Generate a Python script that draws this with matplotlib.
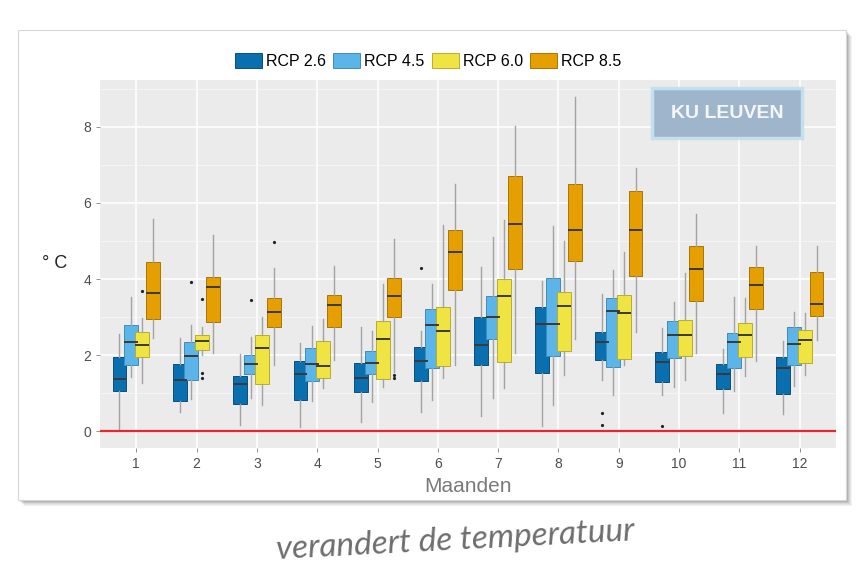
import matplotlib
matplotlib.use('Agg')
import matplotlib.pyplot as plt
from matplotlib.patches import Rectangle, Patch
import numpy as np

plt.rcParams['font.family'] = ['Liberation Sans', 'DejaVu Sans']

# ---------------- data ----------------
months = [1, 2, 3, 4, 5, 6, 7, 8, 9, 10, 11, 12]
scenarios = ['RCP 2.6', 'RCP 4.5', 'RCP 6.0', 'RCP 8.5']
colors = ['#0a6fae', '#5bb5e8', '#f0e442', '#e69f00']
edge_colors = ['#0b4f7a', '#3f8cb8', '#b8ae2a', '#a87500']

rcp26_q1 = [1.07, 0.80, 0.72, 0.81, 1.02, 1.31, 1.75, 1.53, 1.87, 1.30, 1.12, 0.99]
rcp26_med = [1.37, 1.35, 1.24, 1.50, 1.39, 1.84, 2.27, 2.83, 2.35, 1.82, 1.51, 1.67]
rcp26_q3 = [1.96, 1.78, 1.46, 1.85, 1.80, 2.21, 3.00, 3.26, 2.61, 2.08, 1.77, 1.95]
rcp26_lo = [0.05, 0.51, 0.17, 0.12, 0.24, 0.50, 0.41, 0.15, 1.35, 0.95, 0.47, 0.46]
rcp26_hi = [2.55, 2.46, 2.04, 2.33, 2.73, 2.64, 4.32, 3.96, 3.61, 2.72, 2.16, 2.36]

rcp45_q1 = [1.75, 1.35, 1.50, 1.33, 1.51, 1.66, 2.43, 1.99, 1.69, 1.92, 1.66, 1.74]
rcp45_med = [2.35, 1.97, 1.76, 1.78, 1.79, 2.80, 3.00, 2.81, 3.15, 2.54, 2.35, 2.30]
rcp45_q3 = [2.80, 2.35, 2.01, 2.19, 2.10, 3.21, 3.55, 4.03, 3.51, 2.89, 2.59, 2.74]
rcp45_lo = [1.43, 0.84, 0.87, 0.79, 0.78, 0.83, 0.87, 0.69, 0.94, 1.15, 1.06, 1.19]
rcp45_hi = [3.53, 2.78, 2.48, 2.76, 2.64, 3.87, 5.10, 5.40, 4.23, 3.40, 3.52, 3.13]

rcp60_q1 = [1.96, 2.13, 1.24, 1.41, 1.38, 1.72, 1.83, 2.10, 1.91, 1.99, 1.94, 1.79]
rcp60_med = [2.26, 2.36, 2.18, 1.72, 2.43, 2.63, 3.56, 3.30, 3.12, 2.53, 2.54, 2.41]
rcp60_q3 = [2.62, 2.54, 2.52, 2.37, 2.90, 3.26, 4.00, 3.67, 3.58, 2.92, 2.84, 2.66]
rcp60_lo = [1.26, 2.00, 0.68, 1.14, 1.15, 1.40, 1.13, 1.48, 1.74, 1.34, 1.46, 1.49]
rcp60_hi = [2.98, 2.75, 2.99, 2.96, 3.87, 5.43, 5.55, 4.99, 4.72, 4.15, 3.49, 3.10]

rcp85_q1 = [2.96, 2.87, 2.73, 2.75, 3.00, 3.71, 4.26, 4.48, 4.09, 3.43, 3.22, 3.03]
rcp85_med = [3.62, 3.80, 3.14, 3.33, 3.55, 4.72, 5.44, 5.28, 5.28, 4.27, 3.85, 3.35]
rcp85_q3 = [4.44, 4.06, 3.49, 3.58, 4.02, 5.28, 6.71, 6.50, 6.32, 4.88, 4.31, 4.19]
rcp85_lo = [2.44, 2.05, 1.75, 1.86, 1.56, 1.74, 2.05, 2.43, 2.60, 2.06, 1.84, 2.40]
rcp85_hi = [5.57, 5.17, 4.30, 4.35, 5.04, 6.50, 8.03, 8.79, 6.93, 5.70, 4.87, 4.87]

# outliers: scenario index, month, value
outlier_scenario = [2, 1, 2, 2, 2, 1, 3, 3, 3, 0, 0, 0, 0]
outlier_month = [1, 2, 2, 2, 2, 3, 3, 5, 5, 6, 9, 9, 10]
outlier_value = [3.69, 3.91, 3.47, 1.41, 1.52, 3.45, 4.97, 1.47, 1.40, 4.30, 0.48, 0.16, 0.13]

y_ticks = [0, 2, 4, 6, 8]

q1s = [rcp26_q1, rcp45_q1, rcp60_q1, rcp85_q1]
meds = [rcp26_med, rcp45_med, rcp60_med, rcp85_med]
q3s = [rcp26_q3, rcp45_q3, rcp60_q3, rcp85_q3]
los = [rcp26_lo, rcp45_lo, rcp60_lo, rcp85_lo]
his = [rcp26_hi, rcp45_hi, rcp60_hi, rcp85_hi]

# ---------------- figure ----------------
W, H = 861, 576
fig = plt.figure(figsize=(W / 100, H / 100), dpi=100)
fig.patch.set_facecolor('white')

def fx(px):
    return px / W

def fy(py):
    return 1 - py / H

# caption below the card
fig.text(fx(455), fy(541), 'verandert de temperatuur', fontsize=24,
         family=['Lato', 'DejaVu Sans'], style='italic', color='#6e6e6e',
         ha='center', va='center', rotation=3, zorder=0)

# card shadow + card
card_l, card_r, card_t, card_b = 18, 846, 30, 500
for i, a in enumerate([0.05, 0.05, 0.06, 0.08, 0.10]):
    off = 6 - i
    fig.patches.append(Rectangle((fx(card_l + off), fy(card_b + off)),
                                 fx(card_r - card_l), (card_b - card_t) / H,
                                 transform=fig.transFigure, facecolor='#000000',
                                 alpha=a, edgecolor='none', zorder=1))
fig.patches.append(Rectangle((fx(card_l), fy(card_b)), fx(card_r - card_l),
                             (card_b - card_t) / H, transform=fig.transFigure,
                             facecolor='white', edgecolor='#d8d8d8', lw=0.8, zorder=2))

# panel
pl, pr, pt, pb = 100, 836, 80, 448
ax = fig.add_axes([fx(pl), fy(pb), fx(pr - pl), (pb - pt) / H], zorder=3)
ax.set_facecolor('#ebebeb')
for s in ax.spines.values():
    s.set_visible(False)

ax.set_xlim(0.4, 12.6)
ax.set_ylim(-0.44, 9.23)
ax.set_yticks(y_ticks)
ax.set_yticks([1, 3, 5, 7, 9], minor=True)
ax.set_xticks(months)
ax.set_xticklabels([str(m) for m in months])
ax.grid(True, which='major', color='white', lw=1.1, zorder=0)
ax.grid(True, which='minor', axis='y', color='#f6f6f6', lw=0.6, zorder=0)
ax.set_axisbelow(True)
ax.tick_params(axis='both', which='major', labelsize=10, labelcolor='#4d4d4d',
               color='#7f7f7f', length=3, width=0.6)
ax.tick_params(axis='y', which='minor', length=0)

# boxes
spacing = 0.185
offsets = [-1.5 * spacing, -0.5 * spacing, 0.5 * spacing, 1.5 * spacing]
for k in range(4):
    stats = []
    for i, m in enumerate(months):
        fl = [v for s, mm, v in zip(outlier_scenario, outlier_month, outlier_value)
              if s == k and mm == m]
        stats.append(dict(med=meds[k][i], q1=q1s[k][i], q3=q3s[k][i],
                          whislo=los[k][i], whishi=his[k][i], fliers=fl))
    pos = [m + offsets[k] for m in months]
    ax.bxp(stats, positions=pos, widths=0.23, patch_artist=True, showcaps=False,
           boxprops=dict(facecolor=colors[k], edgecolor=edge_colors[k], lw=0.7),
           whiskerprops=dict(color='#a3a3a3', lw=1.0),
           medianprops=dict(color='#3a3a3a', lw=1.4),
           flierprops=dict(marker='o', markersize=2.3, markerfacecolor='#222222',
                           markeredgecolor='none'),
           manage_ticks=False, zorder=3)

# red zero line
ax.axhline(0, color='#e8262b', lw=1.6, zorder=4)

ax.set_xlabel('Maanden', fontsize=15, color='#7a7a7a', labelpad=4)
ax.set_ylabel('° C', fontsize=13, rotation=0, color='#222222', ha='center', va='center')
ax.yaxis.set_label_coords(-0.062, 0.5)

# legend
handles = [Patch(facecolor=c, edgecolor=e, lw=0.7) for c, e in zip(colors, edge_colors)]
leg = ax.legend(handles, scenarios, ncol=4, loc='lower center',
                bbox_to_anchor=(0.446, 1.0), frameon=False, fontsize=11.5,
                handlelength=1.7, handleheight=1.1, handletextpad=0.25,
                columnspacing=0.45, borderaxespad=0.3)

# KU Leuven badge
bx_l, bx_r, bx_t, bx_b = 652, 802, 88, 138
fig.patches.append(Rectangle((fx(bx_l), fy(bx_b)), fx(bx_r - bx_l), (bx_b - bx_t) / H,
                             transform=fig.transFigure, facecolor='#9fb5cb',
                             edgecolor='#c4e0ee', lw=2.5, zorder=5))
fig.text(fx((bx_l + bx_r) / 2), fy((bx_t + bx_b) / 2), 'KU LEUVEN', fontsize=14,
         fontweight='bold', color='#f4f6f8', ha='center', va='center', zorder=6)

fig.savefig('out.png', dpi=100, facecolor='white')
